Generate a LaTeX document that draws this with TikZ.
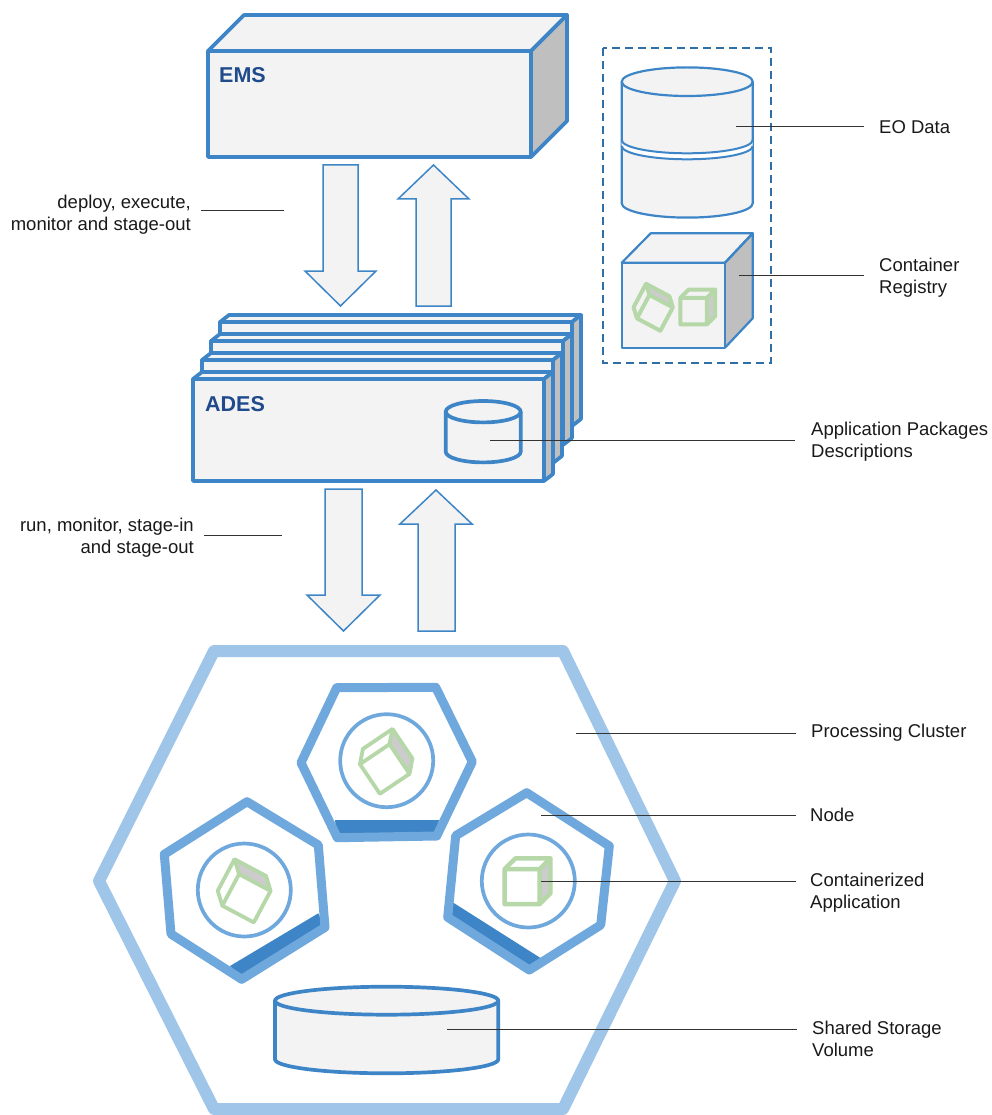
\documentclass[tikz,border=0pt]{standalone}
\usepackage{fontspec}
\setmainfont{Liberation Sans}
\definecolor{boxblue}{HTML}{3D85C6}
\definecolor{fillgray}{HTML}{F3F3F3}
\definecolor{sidegray}{HTML}{BFBFBF}
\definecolor{lightside}{HTML}{CCCCCC}
\definecolor{clusterblue}{HTML}{9FC5E8}
\definecolor{nodeblue}{HTML}{6FA8DC}
\definecolor{greenc}{HTML}{B6D7A8}
\definecolor{titleblue}{HTML}{1F4A8C}
\definecolor{dashblue}{HTML}{2F6FA5}
\tikzset{
 front/.style={draw=boxblue,fill=fillgray,line width=3.7pt,line join=round},
 sidef/.style={draw=boxblue,fill=sidegray,line width=3.7pt,line join=round},
 thinbox/.style={draw=boxblue,fill=fillgray,line width=2.2pt,line join=round},
 arrowshape/.style={draw=boxblue,fill=fillgray,line width=1.5pt,line join=miter},
 lbl/.style={font=\fontsize{18.5}{22}\selectfont,align=left,anchor=west,inner sep=0pt,text=black!90},
 lblr/.style={font=\fontsize{18.5}{22}\selectfont,align=right,anchor=east,inner sep=0pt,text=black!90},
 leader/.style={draw=black!80,line width=1pt},
 titlet/.style={font=\bfseries\fontsize{21.5}{24}\selectfont,text=titleblue,inner sep=0pt,anchor=west},
 hexc/.style={draw=nodeblue,line width=9pt,line join=round},
 circ/.style={draw=nodeblue,line width=3.7pt,fill=white},
 cyl/.style={draw=boxblue,fill=fillgray,line join=round},
}
% box: front x1 y1 x2 y2, depth dx dy
\newcommand{\threeD}[6]{%
 \draw[front] (#1,#2) -- (#1+#5,#2-#6) -- (#3+#5,#2-#6) -- (#3,#2) -- cycle;
 \draw[sidef] (#3,#2) -- (#3+#5,#2-#6) -- (#3+#5,#4-#6) -- (#3,#4) -- cycle;
 \draw[front] (#1,#2) rectangle (#3,#4);
}
% cylinder: x1 x2 ytop ybottom ry width
\newcommand{\cylin}[6]{%
 \draw[cyl,line width=#6pt] (#1,#3) -- (#1,#4) arc[start angle=180,end angle=0,x radius={(#2-#1)/2},y radius=#5] -- (#2,#3) arc[start angle=0,end angle=-180,x radius={(#2-#1)/2},y radius=#5] -- cycle;
 \draw[boxblue,line width=#6pt] (#1,#3) arc[start angle=180,end angle=0,x radius={(#2-#1)/2},y radius=#5];
}
% cube: centre x y, rotation, scale, face colour, line width
\newcommand{\cubeg}[6]{%
 \begin{scope}[shift={(#1,#2)},rotate=#3,scale=#4]
 \fill[#5] (-23,-11.5) -- (-12.5,-22) -- (21.5,-22) -- (21.5,12) -- (11,22.5) -- (-23,22.5) -- cycle;
 \fill[lightside] (11,-11.5) -- (21.5,-22) -- (21.5,12) -- (11,22.5) -- cycle;
 \draw[draw=greenc,line width=#6pt,line join=round] (-23,-11.5) -- (-12.5,-22) -- (21.5,-22) -- (21.5,12) -- (11,22.5) -- (-23,22.5) -- cycle;
 \draw[draw=greenc,line width=#6pt,line join=round] (-23,-11.5) -- (11,-11.5) -- (11,22.5) (11,-11.5) -- (21.5,-22);
 \end{scope}}
\begin{document}
\begin{tikzpicture}[x=1pt,y=-1pt]
\useasboundingbox (0,0) rectangle (991,1115);
% EMS
\threeD{208}{51}{531}{157}{36}{36}
\node[titlet] (ems) at (219,75) {EMS};
% arrows 1
\draw[arrowshape] (323,165) -- (358,165) -- (358,271) -- (376,271) -- (340.5,306) -- (305,271) -- (323,271) -- cycle;
\draw[arrowshape] (416,306) -- (451,306) -- (451,199) -- (469,199) -- (433.5,165) -- (398,199) -- (416,199) -- cycle;
% ADES stack
\threeD{220}{322}{572}{426}{9}{7}
\threeD{211}{341}{563}{445}{9}{7}
\threeD{202}{360}{553}{463}{9}{7}
\threeD{193}{379}{544}{481}{9}{7}
\node[titlet] (ades) at (205,404) {ADES};
\cylin{445.7}{520.7}{411.7}{451.7}{10.7}{3.7}
\coordinate (adescyl) at (490,440);
% arrows 2
\draw[arrowshape] (325,489) -- (362,489) -- (362,595) -- (380,595) -- (343.5,631) -- (307,595) -- (325,595) -- cycle;
\draw[arrowshape] (418,631) -- (455,631) -- (455,524) -- (472,524) -- (436,490) -- (400,524) -- (418,524) -- cycle;
% dashed
\draw[dashblue,line width=2pt,dash pattern=on 8pt off 5pt] (603,48) rectangle (771,363);
% EO
\cylin{621.7}{752.7}{81.7}{203.3}{14.3}{2.2}
\fill[white] (621.7,140) arc[start angle=180,end angle=0,x radius=65.5,y radius=13.3] -- (752.7,146) arc[start angle=0,end angle=180,x radius=65.5,y radius=13.3] -- cycle;
\draw[boxblue,line width=2pt] (621.7,140) arc[start angle=180,end angle=0,x radius=65.5,y radius=13.3];
\draw[boxblue,line width=2pt] (621.7,146) arc[start angle=180,end angle=0,x radius=65.5,y radius=13.3];
\coordinate (eo) at (736,127);
% Registry
\fill[sidegray] (725,262.7) -- (752.7,233.3) -- (752.7,318.3) -- (725,347.7) -- cycle;
\draw[thinbox] (621.7,262.7) -- (650.7,233.3) -- (752.7,233.3) -- (725,262.7) -- cycle;
\draw[thinbox,fill=none] (725,262.7) -- (752.7,233.3) -- (752.7,318.3) -- (725,347.7);
\draw[thinbox] (621.7,262.7) rectangle (725,347.7);
\cubeg{653.3}{306.7}{62}{0.78}{fillgray}{4}
\cubeg{698.4}{306.8}{0}{0.78}{fillgray}{4}
\coordinate (reg) at (739,275);
% cluster
\draw[clusterblue,line width=12pt,line join=round,fill=white] (214,651) -- (563,651) -- (675,881) -- (563,1109) -- (214,1109) -- (99,881) -- cycle;
\coordinate (clu) at (576,733);
% top node
\fill[boxblue] (335,820) -- (439,820) -- (436,836) -- (337,838) -- cycle;
\draw[hexc] (336.7,687.7) -- (435.7,687.3) -- (472.3,761.7) -- (436.7,836) -- (337.3,837.7) -- (301,762.7) -- cycle;
\draw[circ] (386.7,760.7) circle[radius=46.5];
\cubeg{386.7}{760.7}{34}{1.05}{white}{3.8}
% left node
\fill[boxblue] (230,966) -- (318.3,913.3) -- (325,927.3) -- (241.7,979.3) -- cycle;
\draw[hexc] (247,801.7) -- (318.3,845) -- (325,927.3) -- (241.7,979.3) -- (171,934) -- (164.3,854.3) -- cycle;
\draw[circ] (244.3,890) circle[radius=46.5];
\cubeg{244.3}{890}{62}{1.05}{white}{3.8}
% right node
\fill[boxblue] (453.3,902.7) -- (541,958.3) -- (529.3,970) -- (447.7,917.3) -- cycle;
\draw[hexc] (526.7,792.7) -- (609.3,846) -- (600.7,925) -- (529.3,970) -- (447.7,917.3) -- (455.7,835.7) -- cycle;
\draw[circ] (528.3,881) circle[radius=46.5];
\cubeg{528.3}{881}{0}{1.03}{white}{4.4}
\coordinate (nodept) at (541,815);
\coordinate (apppt) at (541,881);
% storage
\cylin{275}{498.3}{1000.7}{1059.3}{14}{3.7}
\coordinate (sto) at (447,1029);
% labels
\node[lblr] (l1) at (191,215) {deploy, execute,\\monitor and stage-out};
\node[lblr] (l2) at (194,538) {run, monitor, stage-in\\and stage-out};
\node[lbl] (l3) at (879,127) {EO Data};
\node[lbl] (l4) at (879,277.5) {Container\\Registry};
\node[lbl] (l5) at (811,442) {Application Packages\\Descriptions};
\node[lbl] (l6) at (811,733) {Processing Cluster};
\node[lbl] (l7) at (810,815) {Node};
\node[lbl] (l8) at (810,893) {Containerized\\Application};
\node[lbl] (l9) at (812,1039) {Shared Storage\\Volume};
\coordinate (a1) at (284,211);
\coordinate (a2) at (282,535);
\draw[leader,shorten <=10pt] (a1 -| l1.east) -- (a1);
\draw[leader,shorten <=10pt] (a2 -| l2.east) -- (a2);
\draw[leader,shorten >=15pt] (eo) -- (eo -| l3.west);
\draw[leader,shorten >=15pt] (reg) -- (reg -| l4.west);
\draw[leader,shorten >=16pt] (adescyl) -- (adescyl -| l5.west);
\draw[leader,shorten >=15pt] (clu) -- (clu -| l6.west);
\draw[leader,shorten >=14pt] (nodept) -- (nodept -| l7.west);
\draw[leader,shorten >=14pt] (apppt) -- (apppt -| l8.west);
\draw[leader,shorten >=15pt] (sto) -- (sto -| l9.west);
\end{tikzpicture}
\end{document}
